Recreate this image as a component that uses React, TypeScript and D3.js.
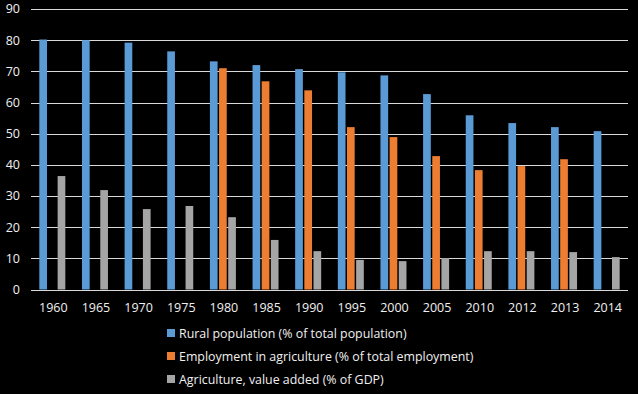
import React, { useRef, useEffect } from "react";
import * as d3 from "d3";

const years = ["1960", "1965", "1970", "1975", "1980", "1985", "1990", "1995", "2000", "2005", "2010", "2012", "2013", "2014"];
const rural = [80.2, 80, 79.2, 76.4, 73.2, 72, 70.7, 69.7, 68.7, 62.7, 55.9, 53.4, 52.1, 50.8];
const employment = [null, null, null, null, 71, 66.8, 63.9, 52.1, 48.9, 42.8, 38.3, 39.6, 41.8, null];
const valueAdded = [36.4, 31.9, 25.8, 26.8, 23.2, 15.9, 12.3, 9.5, 9.1, 10.1, 12.3, 12.3, 12, 10.4];
const seriesNames = [
  "Rural population (% of total population)",
  "Employment in agriculture (% of total employment)",
  "Agriculture, value added (% of GDP)",
];
const colors = ["#5b9bd5", "#ed7d31", "#a5a5a5"];
const yTicks = [0, 10, 20, 30, 40, 50, 60, 70, 80, 90];

const App = () => {
  const svgRef = useRef<SVGSVGElement>(null);

  useEffect(() => {
    const width = 638;
    const height = 394;
    const margin = { top: 9, right: 10, bottom: 104.5, left: 31 };
    const font = "'Open Sans', sans-serif";
    const textColor = "#f0f0f0";

    const svg = d3.select(svgRef.current).attr("width", width).attr("height", height);
    svg.selectAll("*").remove();

    svg.append("rect").attr("width", width).attr("height", height).attr("fill", "#000");

    const x = d3.scaleBand().domain(years).range([margin.left, width - margin.right]).padding(0);
    const y = d3.scaleLinear().domain([0, 90]).range([height - margin.bottom, margin.top]);
    const x1 = d3.scaleBand<number>().domain([0, 1, 2]).range([-13, 13]).paddingInner(0.16);

    // gridlines
    svg
      .append("g")
      .selectAll("line")
      .data(yTicks)
      .join("line")
      .attr("x1", margin.left)
      .attr("x2", width - margin.right)
      .attr("y1", (d) => Math.round(y(d)) + 0.5)
      .attr("y2", (d) => Math.round(y(d)) + 0.5)
      .attr("stroke", "#d9d9d9")
      .attr("stroke-width", 1);

    // y labels
    svg
      .append("g")
      .selectAll("text")
      .data(yTicks)
      .join("text")
      .attr("x", 20)
      .attr("y", (d) => y(d))
      .attr("dy", "0.35em")
      .attr("text-anchor", "end")
      .attr("fill", textColor)
      .attr("font-family", font)
      .attr("font-size", 12.5)
      .text((d) => d);

    // bars
    const allSeries = [rural, employment, valueAdded];
    allSeries.forEach((vals, si) => {
      svg
        .append("g")
        .selectAll("rect")
        .data(vals.map((v, i) => ({ year: years[i], v })).filter((d) => d.v != null))
        .join("rect")
        .attr("x", (d) => x(d.year)! + x.bandwidth() / 2 + x1(si)!)
        .attr("width", x1.bandwidth())
        .attr("y", (d) => y(d.v as number))
        .attr("height", (d) => y(0) - y(d.v as number))
        .attr("fill", colors[si]);
    });

    // x labels
    svg
      .append("g")
      .selectAll("text")
      .data(years)
      .join("text")
      .attr("x", (d) => x(d)! + x.bandwidth() / 2 + 1)
      .attr("y", 311.5)
      .attr("text-anchor", "middle")
      .attr("fill", textColor)
      .attr("font-family", font)
      .attr("font-size", 12.5)
      .text((d) => d);

    // legend
    const legend = svg
      .append("g")
      .selectAll("g")
      .data(seriesNames)
      .join("g")
      .attr("transform", (d, i) => `translate(167, ${329 + i * 23})`);
    legend.append("rect").attr("width", 8).attr("height", 8).attr("fill", (d, i) => colors[i]);
    legend
      .append("text")
      .attr("x", 12)
      .attr("y", 8.5)
      .attr("fill", textColor)
      .attr("font-family", font)
      .attr("font-size", 12.4)
      .text((d) => d);
  }, []);

  return (
    <div style={{ position: "absolute", left: 0, top: 0 }}>
      <svg ref={svgRef} style={{ display: "block" }}></svg>
    </div>
  );
};

export default App;
